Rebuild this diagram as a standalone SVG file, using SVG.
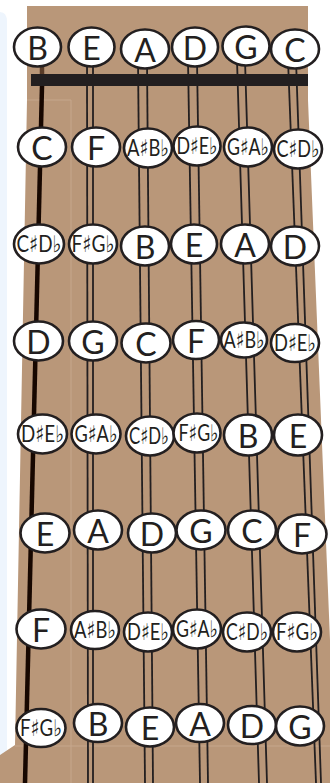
<svg xmlns="http://www.w3.org/2000/svg" width="330" height="783" viewBox="0 0 330 783">
<style>
.o{fill:#ffffff;stroke:#231f20;stroke-width:2.6}
.n{font-family:Lato,"Open Sans","DejaVu Sans",sans-serif;font-weight:400;font-size:32px;fill:#231f20;text-anchor:middle}
.a{font-family:Lato,"DejaVu Sans",sans-serif;font-weight:400;font-size:23px;fill:#231f20;text-anchor:middle}
.s{stroke:#231f20;stroke-width:1.8;fill:none}
.f{stroke:#c6a78d;stroke-width:1;fill:none}
</style>
<rect width="330" height="783" fill="#ffffff"/>
<path d="M0,12 Q7,12 7,22 V760 H0 Z" fill="#eef5fd"/>
<polygon points="27,6 308,6 308,100 330,640 330,783 0,783 0,755 15,745 27,100" fill="#b99779"/>
<g id="frets">
<path class="f" d="M27,100 H71 V783"/>
<path class="f" d="M15,746 H330"/>
</g>
<g id="connectors">
<line x1="42" y1="60" x2="42" y2="74" stroke="#5a3c28" stroke-width="4.5"/>
<line x1="42" y1="86" x2="25" y2="783" stroke="#170700" stroke-width="4.5"/>
<line class="s" x1="87" y1="60" x2="88" y2="783"/>
<line class="s" x1="93" y1="60" x2="93" y2="783"/>
<line class="s" x1="138" y1="60" x2="145" y2="783"/>
<line class="s" x1="147" y1="60" x2="153" y2="783"/>
<line class="s" x1="188" y1="60" x2="200" y2="783"/>
<line class="s" x1="197" y1="60" x2="208" y2="783"/>
<line class="s" x1="237" y1="60" x2="259" y2="783"/>
<line class="s" x1="245" y1="60" x2="267" y2="783"/>
<line class="s" x1="288" y1="60" x2="316" y2="783"/>
<line class="s" x1="296" y1="60" x2="321" y2="783"/>
</g>
<rect id="nut" x="31" y="74" width="277" height="12" fill="#231f20"/>
<g id="r0">
<g id="r0c1"><ellipse class="o" cx="37.5" cy="47" rx="23.5" ry="19.5"/><text class="n" x="37.5" y="60">B</text></g>
<g id="r0c2"><ellipse class="o" cx="91.5" cy="47" rx="23" ry="19.5"/><text class="n" x="91.5" y="60">E</text></g>
<g id="r0c3"><ellipse class="o" cx="145" cy="49" rx="24" ry="19.5"/><text class="n" x="145" y="62">A</text></g>
<g id="r0c4"><ellipse class="o" cx="195" cy="47" rx="23" ry="19.5"/><text class="n" x="195" y="60">D</text></g>
<g id="r0c5"><ellipse class="o" cx="246" cy="46" rx="23.5" ry="19.5"/><text class="n" x="246" y="59">G</text></g>
<g id="r0c6"><ellipse class="o" cx="295" cy="49" rx="24" ry="19.5"/><text class="n" x="295" y="62">C</text></g>
</g>
<g id="r1">
<g id="r1c1"><ellipse class="o" cx="42" cy="147" rx="24" ry="19.5"/><text class="n" x="42" y="160">C</text></g>
<g id="r1c2"><ellipse class="o" cx="96" cy="147" rx="24" ry="19.5"/><text class="n" x="96" y="160">F</text></g>
<g id="r1c3"><ellipse class="o" cx="148" cy="148" rx="24" ry="19.5"/><text class="a" x="148" y="156" textLength="42" lengthAdjust="spacingAndGlyphs">A♯B♭</text></g>
<g id="r1c4"><ellipse class="o" cx="197" cy="146" rx="23.5" ry="19.5"/><text class="a" x="197" y="154" textLength="41" lengthAdjust="spacingAndGlyphs">D♯E♭</text></g>
<g id="r1c5"><ellipse class="o" cx="248" cy="147" rx="24" ry="19.5"/><text class="a" x="248" y="155" textLength="42" lengthAdjust="spacingAndGlyphs">G♯A♭</text></g>
<g id="r1c6"><ellipse class="o" cx="298" cy="149" rx="24" ry="19.5"/><text class="a" x="298" y="157" textLength="43" lengthAdjust="spacingAndGlyphs">C♯D♭</text></g>
</g>
<g id="r2">
<g id="r2c1"><ellipse class="o" cx="39" cy="244" rx="25" ry="19.5"/><text class="a" x="39" y="252" textLength="45" lengthAdjust="spacingAndGlyphs">C♯D♭</text></g>
<g id="r2c2"><ellipse class="o" cx="93" cy="244" rx="24" ry="19.5"/><text class="a" x="93" y="252" textLength="43" lengthAdjust="spacingAndGlyphs">F♯G♭</text></g>
<g id="r2c3"><ellipse class="o" cx="145" cy="246" rx="24" ry="19.5"/><text class="n" x="145" y="259">B</text></g>
<g id="r2c4"><ellipse class="o" cx="194" cy="244" rx="23" ry="19.5"/><text class="n" x="194" y="257">E</text></g>
<g id="r2c5"><ellipse class="o" cx="245" cy="244" rx="24" ry="19.5"/><text class="n" x="245" y="257">A</text></g>
<g id="r2c6"><ellipse class="o" cx="295" cy="246" rx="24" ry="19.5"/><text class="n" x="295" y="259">D</text></g>
</g>
<g id="r3">
<g id="r3c1"><ellipse class="o" cx="38.5" cy="341" rx="24.5" ry="19.5"/><text class="n" x="38.5" y="354">D</text></g>
<g id="r3c2"><ellipse class="o" cx="93" cy="341" rx="24" ry="19.5"/><text class="n" x="93" y="354">G</text></g>
<g id="r3c3"><ellipse class="o" cx="146" cy="343" rx="24.5" ry="19.5"/><text class="n" x="146" y="356">C</text></g>
<g id="r3c4"><ellipse class="o" cx="196" cy="340" rx="23" ry="19"/><text class="n" x="196" y="353">F</text></g>
<g id="r3c5"><ellipse class="o" cx="244" cy="340" rx="23" ry="17.5"/><text class="a" x="244" y="348" textLength="41" lengthAdjust="spacingAndGlyphs">A♯B♭</text></g>
<g id="r3c6"><ellipse class="o" cx="295" cy="343" rx="24" ry="19"/><text class="a" x="295" y="351" textLength="42" lengthAdjust="spacingAndGlyphs">D♯E♭</text></g>
</g>
<g id="r4">
<g id="r4c1"><ellipse class="o" cx="42.5" cy="434" rx="24.5" ry="19.5"/><text class="a" x="42.5" y="442" textLength="43" lengthAdjust="spacingAndGlyphs">D♯E♭</text></g>
<g id="r4c2"><ellipse class="o" cx="96" cy="434" rx="24.5" ry="19.5"/><text class="a" x="96" y="442" textLength="43" lengthAdjust="spacingAndGlyphs">G♯A♭</text></g>
<g id="r4c3"><ellipse class="o" cx="150" cy="436" rx="24" ry="19.5"/><text class="a" x="149" y="444" textLength="40" lengthAdjust="spacingAndGlyphs">C♯D♭</text></g>
<g id="r4c4"><ellipse class="o" cx="197" cy="433" rx="23.5" ry="19.5"/><text class="a" x="198.5" y="441" textLength="40" lengthAdjust="spacingAndGlyphs">F♯G♭</text></g>
<g id="r4c5"><ellipse class="o" cx="248" cy="435" rx="24" ry="20.5"/><text class="n" x="248" y="448">B</text></g>
<g id="r4c6"><ellipse class="o" cx="298" cy="435" rx="24" ry="20.5"/><text class="n" x="298" y="448">E</text></g>
</g>
<g id="r5">
<g id="r5c1"><ellipse class="o" cx="45" cy="533" rx="24.5" ry="19.5"/><text class="n" x="45" y="546">E</text></g>
<g id="r5c2"><ellipse class="o" cx="98" cy="530" rx="24" ry="19.5"/><text class="n" x="98" y="543">A</text></g>
<g id="r5c3"><ellipse class="o" cx="152" cy="533" rx="24" ry="19.5"/><text class="n" x="152" y="546">D</text></g>
<g id="r5c4"><ellipse class="o" cx="201" cy="530" rx="24.5" ry="19.5"/><text class="n" x="201" y="543">G</text></g>
<g id="r5c5"><ellipse class="o" cx="252" cy="530" rx="24" ry="19.5"/><text class="n" x="252" y="543">C</text></g>
<g id="r5c6"><ellipse class="o" cx="302" cy="534" rx="24.5" ry="19.5"/><text class="n" x="302" y="547">F</text></g>
</g>
<g id="r6">
<g id="r6c1"><ellipse class="o" cx="41" cy="629" rx="24.5" ry="19.5"/><text class="n" x="41" y="642">F</text></g>
<g id="r6c2"><ellipse class="o" cx="95" cy="630" rx="24" ry="19"/><text class="a" x="95" y="638" textLength="42" lengthAdjust="spacingAndGlyphs">A♯B♭</text></g>
<g id="r6c3"><ellipse class="o" cx="148" cy="632" rx="24" ry="19.5"/><text class="a" x="148" y="640" textLength="42" lengthAdjust="spacingAndGlyphs">D♯E♭</text></g>
<g id="r6c4"><ellipse class="o" cx="197" cy="629" rx="24" ry="19.5"/><text class="a" x="197" y="637" textLength="42" lengthAdjust="spacingAndGlyphs">G♯A♭</text></g>
<g id="r6c5"><ellipse class="o" cx="247" cy="632" rx="24" ry="19.5"/><text class="a" x="247" y="640" textLength="42" lengthAdjust="spacingAndGlyphs">C♯D♭</text></g>
<g id="r6c6"><ellipse class="o" cx="297" cy="632" rx="24" ry="19.5"/><text class="a" x="297" y="640" textLength="42" lengthAdjust="spacingAndGlyphs">F♯G♭</text></g>
</g>
<g id="r7">
<g id="r7c1"><ellipse class="o" cx="41" cy="728" rx="24.5" ry="19"/><text class="a" x="41" y="736" textLength="42" lengthAdjust="spacingAndGlyphs">F♯G♭</text></g>
<g id="r7c2"><ellipse class="o" cx="98" cy="723" rx="24" ry="19"/><text class="n" x="98" y="736">B</text></g>
<g id="r7c3"><ellipse class="o" cx="150" cy="727" rx="24" ry="19.5"/><text class="n" x="150" y="740">E</text></g>
<g id="r7c4"><ellipse class="o" cx="200" cy="723" rx="24" ry="19"/><text class="n" x="200" y="736">A</text></g>
<g id="r7c5"><ellipse class="o" cx="252" cy="725" rx="24" ry="19"/><text class="n" x="252" y="738">D</text></g>
<g id="r7c6"><ellipse class="o" cx="300" cy="726" rx="24" ry="19.5"/><text class="n" x="300" y="739">G</text></g>
</g>
</svg>
